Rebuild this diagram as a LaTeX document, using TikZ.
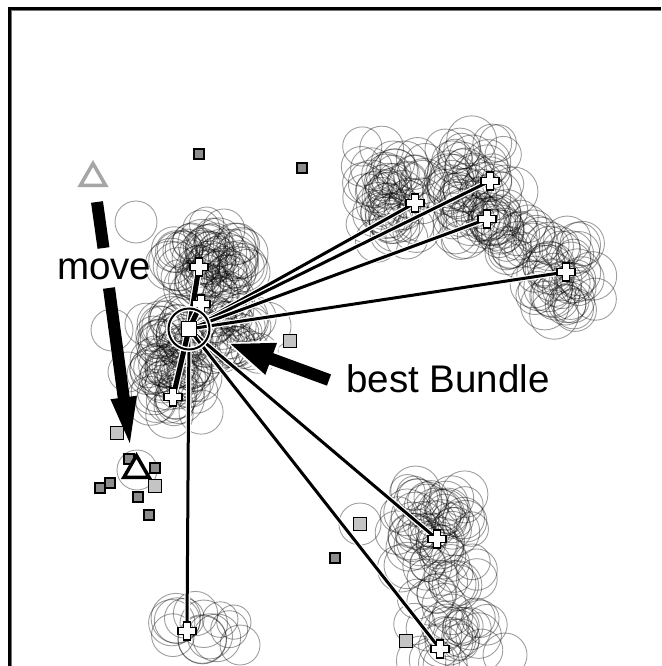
\documentclass[tikz,border=0pt]{standalone}
\usepackage{fontspec}
\setmainfont{Liberation Sans}
\usetikzlibrary{arrows.meta,shapes.geometric,calc}
\begin{document}
\begin{tikzpicture}[x=1pt,y=-1pt,
  ring/.style={draw=black,draw opacity=0.38,line width=0.9pt},
  link/.style={line width=3pt,preaction={draw,white,line width=5.5pt}},
  boldlink/.style={line width=5pt,preaction={draw,white,line width=7.5pt}},
  sqd/.style={draw,line width=1.5pt,fill=black!45,minimum size=10pt,inner sep=0pt},
  sql/.style={draw,line width=1.5pt,fill=black!23,minimum size=13pt,inner sep=0pt},
  tri/.style={regular polygon,regular polygon sides=3,minimum size=29pt,inner sep=0pt,line width=3.5pt},
  lbl/.style={font=\fontsize{38.5}{42}\selectfont,inner sep=0pt},
  plusm/.pic={\filldraw[fill=white,draw=black,line width=1.5pt]
    (-3.6,-9) -- (3.6,-9) -- (3.6,-3.6) -- (9,-3.6) -- (9,3.6) -- (3.6,3.6) -- (3.6,9)
    -- (-3.6,9) -- (-3.6,3.6) -- (-9,3.6) -- (-9,-3.6) -- (-3.6,-3.6) -- cycle;}
]
\useasboundingbox (0,0) rectangle (661,666);
\fill[white] (0,0) rectangle (661,666);
% frame
\draw[black!55,line width=1.5pt] (11.5,666) -- (11.5,10.5) -- (661,10.5);
\draw[black,line width=3pt] (9.5,666) -- (9.5,8.5) -- (661,8.5);

% clouds of circles
\pgfmathsetseed{4711}
\foreach \cx/\cy/\sx/\sy/\n in {210/262/45/40/80, 228/335/42/30/40, 175/385/30/35/50, 172/330/28/25/30,
   395/195/45/50/60, 478/195/40/60/70, 562/275/40/45/45, 520/240/25/30/20,
   437/535/45/55/60, 440/595/30/20/10, 450/640/45/35/25, 195/630/45/28/14}{
  \foreach \i in {1,...,\n}{
    \pgfmathsetmacro\px{\cx+\sx*(0.7*rand+0.3*rand)}
    \pgfmathsetmacro\py{\cy+\sy*(0.7*rand+0.3*rand)}
    \pgfmathsetmacro\rr{21+4*rand}
    \draw[ring] (\px,\py) circle[radius=\rr];
  }
}
\foreach \px/\py/\rr in {136/222/21, 112/330/21, 128/372/20, 137/470/20, 360/524/21, 505/655/22, 240/645/20}{
  \draw[ring] (\px,\py) circle[radius=\rr];
}

% bundle centre and plus positions
\coordinate (c) at (189,329);
\coordinate (p1) at (199,267);
\coordinate (p2) at (201,304);
\coordinate (p3) at (173,397);
\coordinate (p4) at (415,203);
\coordinate (p5) at (490,181);
\coordinate (p6) at (487,219);
\coordinate (p7) at (566,272);
\coordinate (p8) at (437,539);
\coordinate (p9) at (440,649);
\coordinate (p10) at (187,631);

\foreach \p in {p4,p5,p6,p7,p8,p9,p10}{\draw[link] (c) -- (\p);}
\foreach \p in {p1,p2,p3}{\draw[boldlink] (c) -- (\p);}
\foreach \p in {p1,p2,p3,p4,p5,p6,p7,p8,p9,p10}{\pic at (\p) {plusm};}

% squares
\node[sqd] (s1) at (199,154) {};
\node[sqd] (s2) at (302,168) {};
\node[sql] (s3) at (290,341) {};
\node[sql] (s4) at (117,433) {};
\node[sqd] (s5) at (129,459) {};
\node[sqd] (s6) at (155,468) {};
\node[sql] (s7) at (155,486) {};
\node[sqd] (s8) at (110,483) {};
\node[sqd] (s9) at (100,488) {};
\node[sqd] (s10) at (138,497) {};
\node[sqd] (s11) at (149,515) {};
\node[sql] (s12) at (360,524) {};
\node[sqd] (s13) at (335,558) {};
\node[sql] (s14) at (406,641) {};

% best bundle marker
\node[circle,draw=white,line width=5pt,minimum size=41pt] at (c) {};
\node[circle,draw=black,line width=2pt,minimum size=41pt] (cc) at (c) {};
\node[draw,line width=1.5pt,fill=white,minimum size=15pt,inner sep=0pt] (cs) at (c) {};

% triangles
\node[tri,draw=black!35] (t0) at (93,178) {};
\node[tri,draw=black,fill=white] (t1) at (136.5,470) {};

% move arrow
\coordinate (m0) at (97,202);
\coordinate (m1) at (103.5,248);
\coordinate (m2) at (109,288);
\coordinate (m3) at (131,452);
\draw[line width=12pt] (m0) -- (m1);
\draw[line width=12pt,-{Triangle[length=55pt,width=22pt]}] (m2) -- (m3);
\node[lbl,anchor=base west] (mv) at (57,279) {move};

% best bundle arrow
\coordinate (b0) at (329,380);
\coordinate (b1) at (228,343);
\draw[white,line width=17pt,-{Triangle[length=52pt,width=38pt]}] (b0) -- ($(b1)!-3pt!(b0)$);
\draw[line width=12pt,-{Triangle[length=46pt,width=30pt]}] (b0) -- (b1);
\node[lbl,anchor=base west] (bb) at (346,392) {best Bundle};
\end{tikzpicture}
\end{document}
